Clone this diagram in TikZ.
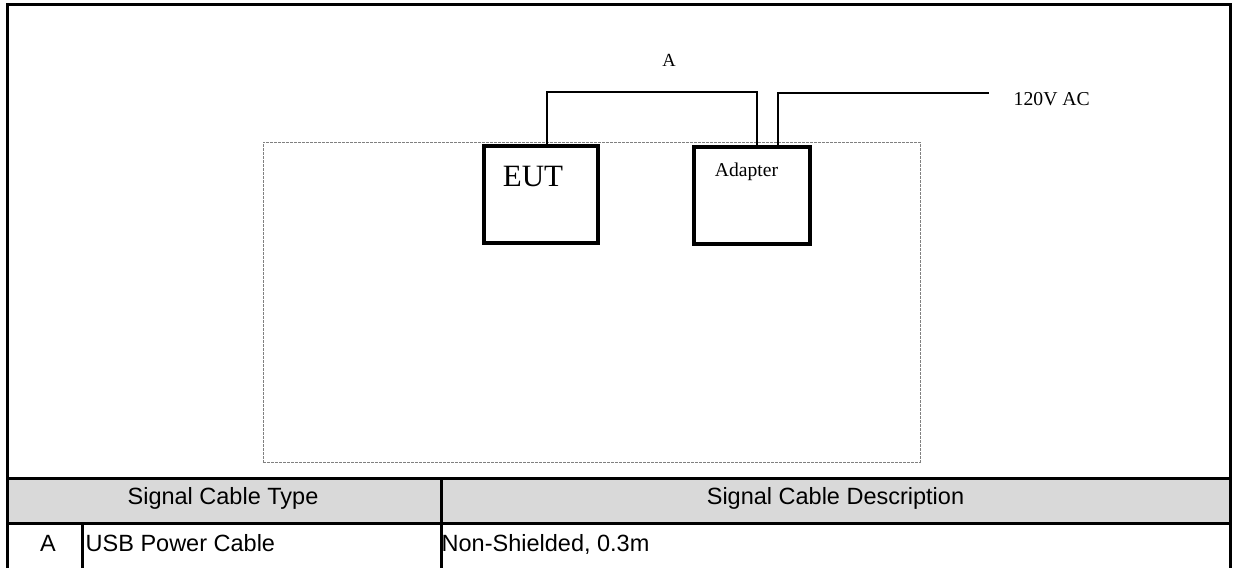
\documentclass[tikz,border=0pt]{standalone}
\usepackage{fontspec}
\setmainfont{Liberation Serif}
\newfontfamily\arialf{Liberation Sans}
\definecolor{hdrgray}{HTML}{D9D9D9}
\definecolor{dashgray}{HTML}{808080}
\tikzset{
  frameline/.style={line width=3pt},
  devbox/.style={draw, line width=4pt, inner sep=0pt, fill=white},
  cable/.style={line width=1.4pt},
  setupbox/.style={draw=dashgray, line width=1pt, dash pattern=on 3pt off 1pt},
  lbl/.style={inner sep=0pt, anchor=base},
  tbltxt/.style={inner sep=0pt, anchor=base, font=\arialf\fontsize{23.5}{28}\selectfont},
}
\begin{document}
\begin{tikzpicture}[x=1pt,y=-1pt]
\useasboundingbox (0,0) rectangle (1235,568);
% table header band
\fill[hdrgray] (7.5,478.5) rectangle (1230.5,523);
% dashed test-setup area
\node[setupbox, minimum width=657pt, minimum height=320pt, inner sep=0pt] (area) at (591.5,302) {};
% devices
\node[devbox, minimum width=113.5pt, minimum height=97pt] (eut) at (540.75,194) {};
\node[devbox, minimum width=116pt, minimum height=97pt] (adp) at (752,195.5) {};
\node[lbl, font=\fontsize{31}{36}\selectfont] (eutlbl) at (533,186.7) {EUT};
\node[lbl, font=\fontsize{19.6}{23}\selectfont] (adplbl) at (746.5,176.7) {Adapter};
% cables
\coordinate (ctop) at (547,92);
\coordinate (acend) at (989,93);
\draw[cable] (eut.north -| ctop) -- (ctop) -- (757,92) -- (757,0 |- adp.north);
\draw[cable] (778,0 |- adp.north) -- (778,93) -- (acend);
\node[lbl, font=\fontsize{18.5}{22}\selectfont] (cablea) at (669,66) {A};
\node[lbl, anchor=base west, font=\fontsize{19.7}{23}\selectfont] (ac) at (1013.5,105) {120V AC};
% outer frame
\draw[frameline] (7.5,568) -- (7.5,4.5) -- (1230.5,4.5) -- (1230.5,568);
% table lines
\draw[frameline] (7.5,478.5) -- (1230.5,478.5);
\draw[frameline] (7.5,523) -- (1230.5,523);
\draw[frameline] (441,478.5) -- (441,568);
\draw[frameline] (82.5,523) -- (82.5,568);
% table text
\node[tbltxt] (h1) at (223,504) {Signal Cable Type};
\node[tbltxt] (h2) at (835.5,504) {Signal Cable Description};
\node[tbltxt] (r1) at (48,551.5) {A};
\node[tbltxt, anchor=base west] (r2) at (85.5,551.5) {USB Power Cable};
\node[tbltxt, anchor=base west] (r3) at (441.5,551.5) {Non-Shielded, 0.3m};
\end{tikzpicture}
\end{document}
